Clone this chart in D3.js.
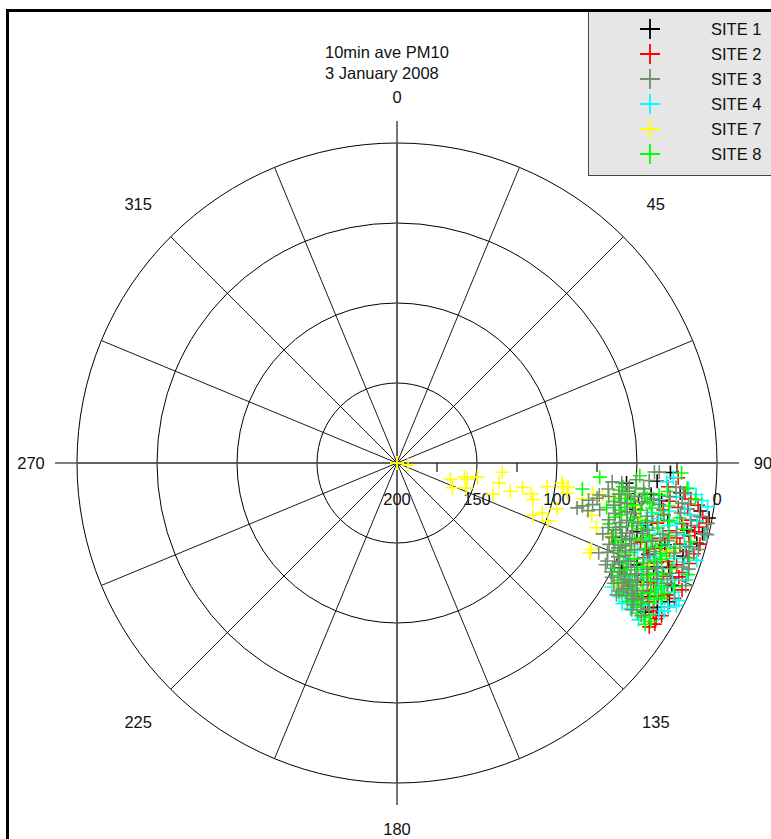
<!DOCTYPE html>
<html>
<head>
<meta charset="utf-8">
<script src="https://cdn.jsdelivr.net/npm/d3@7"></script>
<style>
  html, body { margin: 0; padding: 0; background: #fff; }
  svg { display: block; font-family: "Liberation Sans", Arial, sans-serif; }
</style>
</head>
<body>
<svg id="chart" width="771" height="839"></svg>
<script>
// Title lines
const titleLines = ["10min ave PM10", "3 January 2008"];

// Compass direction labels (degrees) and radial value labels
const directionLabels = [0, 45, 90, 135, 180, 225, 270, 315];
const spokeAngles = d3.range(0, 360, 22.5);
const ringValues = [150, 100, 50, 0];
const radialLabels = [200, 150, 100, 50, 0];
const minorTicks = [175, 125, 75, 25];

// Site names and colours
const siteNames = ["SITE 1", "SITE 2", "SITE 3", "SITE 4", "SITE 7", "SITE 8"];
const siteColors = ["#000000", "#ff0000", "#6f8f6f", "#00ffff", "#ffff00", "#00ff00"];

// [wind direction (deg), PM10] per site
const site1 = [[95,56],[92,29],[109,57],[101,48],[104,40],[98,33],[107,25],[111,18],[114,12],[103,14],[99,8],[96,22],[116,30],[118,22],[121,19],[113,37],[106,44],[110,33],[100,2],[105,6],[119,14],[102,27],[108,12],[115,45],[112,27],[97,40],[117,9],[94,37],[103,4],[120,30]];
const site2 = [[97,15],[98,10],[99,22],[100,6],[101,13],[102,18],[103,9],[104,25],[105,4],[106,16],[107,11],[108,21],[109,7],[110,14],[111,26],[112,10],[113,19],[114,5],[115,23],[116,12],[117,17],[118,8],[119,28],[120,15],[121,11],[122,10],[98,28],[100,31],[103,33],[106,29],[109,35],[112,31],[115,34],[118,37],[96,19],[101,3],[104,12],[107,6],[110,20],[113,14],[116,7],[119,21],[121,25],[123,12],[99,16],[102,7],[105,19],[108,27],[111,9],[114,29],[117,24],[120,9],[93,24],[95,30],[108,40]];
const site3 = [[92,36],[95,59],[92,39],[104,84],[104,77],[100,73],[99,66],[105,56],[106,55],[111,58],[113,50],[119,38],[122,27],[119,25],[120,34],[101,2],[103,3],[96,45],[98,50],[100,54],[102,48],[104,45],[106,40],[108,47],[110,42],[112,46],[114,40],[116,45],[118,41],[117,32],[115,36],[113,30],[111,35],[109,30],[107,33],[105,28],[103,36],[101,30],[99,34],[97,28],[95,25],[94,42],[96,20],[98,16],[100,20],[102,12],[104,20],[106,24],[108,18],[110,10],[112,16],[114,22],[116,26],[118,30],[120,18],[121,28],[118,48],[116,55],[114,62],[109,64],[107,62],[103,70],[101,78],[97,67],[95,65],[99,45],[105,38],[107,50],[109,45],[111,52],[113,43],[115,50],[117,40],[119,45],[121,40],[110,32],[112,25],[114,15],[106,10],[100,8],
  [97,55],[98,60],[100,58],[101,62],[102,53],[103,60],[104,52],[105,63],[106,47],[107,57],[108,52],[109,58],[110,50],[111,47],[112,54],[113,57],[114,48],[115,55],[116,42],[117,50],[118,36],[119,32],[120,29],[121,22],[122,20],[117,37],[116,33],[120,40],[102,40],[98,38],[96,54],[94,50],[103,81],[102,75],[99,72],
  [103,1],[106,4],[110,6],[113,4],[108,9],[98,20]];
const site4 = [[93,27],[94,31],[96,12],[97,24],[98,4],[99,18],[100,27],[101,9],[102,21],[103,2],[104,15],[105,30],[106,8],[107,22],[108,3],[109,17],[110,28],[111,6],[112,24],[113,13],[114,33],[115,9],[116,19],[117,27],[118,8],[119,32],[120,22],[121,38],[122,28],[119,42],[120,45],[118,40],[123,20],[98,35],[101,38],[104,42],[107,36],[110,40],[113,44],[116,38],[100,14],[103,26],[106,13],[109,10],[112,5],[115,16],[118,13],[95,17],[97,8],[102,33],[105,37],[111,31],[114,21],[117,4],[120,11],[121,30],[122,34],[120,35],[118,34],[116,4],[119,9]];
const site7 = [[0,200],[90,200],[180,200],[270,200],[45,200],[100,193],[107,165],[114,162],[102,157],[103,155],[110,154],[100,149],[95,134],[101,135],[108,137],[104,127],[101,120],[103,114],[105,112],[111,109],[109,104],[111,99],[99,105],[106,96],[97,96],[98,92],[100,92],[98,95],[101,82],[99,76],[105,74],[108,69],[109,59],[114,67],[115,67],[99,70],[99,63],[100,54],[100,48],[119,42],[119,40],[112,30],[108,22],[117,28],[103,45]];
const site8 = [[94,73],[93,48],[92,22],[98,83],[102,66],[97,60],[99,52],[101,45],[103,56],[105,48],[107,40],[109,52],[111,44],[113,50],[115,42],[117,35],[119,30],[121,16],[122,23],[120,38],[118,26],[116,20],[114,28],[112,34],[110,24],[108,30],[106,36],[104,32],[102,26],[100,38],[98,42],[96,30],[95,18],[97,12],[99,28],[101,20],[103,16],[105,24],[107,18],[109,22],[111,16],[113,24],[115,18],[117,14],[119,20],[120,27],[121,32],[118,44],[116,50],[114,36],[112,40],[110,48],[108,44],[106,54],[104,60],[100,62],[96,50],[97,35],[105,10],[108,8],[111,5],[114,10],[116,14],[118,18],[120,24],[122,18],[119,36],[117,45],[115,30],[113,33],[109,36],[107,27],[103,40],[101,32],[99,40],
  [96,58],[98,56],[100,50],[102,58],[104,48],[106,62],[108,58],[110,55],[112,50],[114,45],[116,40],[118,33],[120,31],[121,25],[122,13],[123,15],[119,26],[117,22],[115,25],[113,20],[111,28],[109,26],[107,34],[105,42],[103,48],[101,55],[99,58],[97,44]];

const siteData = [site1, site2, site3, site4, site7, site8];
// drawing order of the sites (index into siteData)
const drawOrder = [0, 1, 3, 4, 5, 2];

const svg = d3.select("#chart");
const cx = 397, cy = 463, R = 320;

const r = d3.scaleLinear().domain([200, 0]).range([0, R]);
const ang = d3.scaleLinear().domain([0, 360]).range([0, 2 * Math.PI]);
const px = (deg, rad) => cx + rad * Math.sin(ang(deg));
const py = (deg, rad) => cy - rad * Math.cos(ang(deg));

const grid = svg.append("g");

// spokes
grid.selectAll("line.spoke").data(spokeAngles).join("line")
  .attr("x1", cx).attr("y1", cy)
  .attr("x2", d => px(d, R)).attr("y2", d => py(d, R))
  .attr("stroke", "#000").attr("stroke-width", 0.9);

// rings
grid.selectAll("circle.ring").data(ringValues).join("circle")
  .attr("cx", cx).attr("cy", cy).attr("r", d => r(d))
  .attr("fill", "none").attr("stroke", "#000").attr("stroke-width", 1);

// main axes extended beyond the outer ring
const axisLen = R + 22;
grid.selectAll("line.axis").data([0, 90, 180, 270]).join("line")
  .attr("x1", cx).attr("y1", cy)
  .attr("x2", d => px(d, axisLen)).attr("y2", d => py(d, axisLen))
  .attr("stroke", "#555").attr("stroke-width", 1.6);

// minor radial ticks along the 90 degree axis
grid.selectAll("line.tick").data(minorTicks).join("line")
  .attr("x1", d => cx + r(d)).attr("x2", d => cx + r(d))
  .attr("y1", cy).attr("y2", cy + 9)
  .attr("stroke", "#222").attr("stroke-width", 1.3);

// direction labels
grid.selectAll("text.dir").data(directionLabels).join("text")
  .attr("x", d => px(d, 366)).attr("y", d => py(d, 366))
  .attr("text-anchor", "middle").attr("dominant-baseline", "central")
  .attr("font-size", 16.5).attr("fill", "#111")
  .text(d => d);

// radial value labels
grid.selectAll("text.rad").data(radialLabels).join("text")
  .attr("x", d => cx + r(d)).attr("y", cy + 42)
  .attr("text-anchor", "middle")
  .attr("font-size", 16.5).attr("fill", "#111")
  .text(d => d);

// title
svg.append("g").selectAll("text").data(titleLines).join("text")
  .attr("x", 325).attr("y", (d, i) => 58 + i * 21)
  .attr("font-size", 16.5).attr("fill", "#111")
  .text(d => d);

// data crosses
const cross = s => `M${-s},0H${s}M0,${-s}V${s}`;
const pts = svg.append("g");
drawOrder.forEach(k => {
  pts.append("g").selectAll("path").data(siteData[k]).join("path")
    .attr("transform", d => `translate(${px(d[0], r(d[1]))},${py(d[0], r(d[1]))})`)
    .attr("d", cross(7))
    .attr("fill", "none")
    .attr("stroke", siteColors[k]).attr("stroke-width", 1.6);
});

// legend
const lg = svg.append("g");
lg.append("rect").attr("x", 588.5).attr("y", 11.5).attr("width", 200).attr("height", 164)
  .attr("fill", "#e6e6e6").attr("stroke", "#444").attr("stroke-width", 1);
siteNames.forEach((name, i) => {
  const y = 29 + i * 25;
  lg.append("path").attr("transform", `translate(650,${y})`)
    .attr("d", cross(10)).attr("fill", "none")
    .attr("stroke", siteColors[i]).attr("stroke-width", 1.8);
  lg.append("text").attr("x", 711).attr("y", y).attr("dominant-baseline", "central")
    .attr("font-size", 16.5).attr("fill", "#111").text(name);
});

// frame (top and left edges)
svg.append("path").attr("d", "M7.5,839V10.5H771")
  .attr("fill", "none").attr("stroke", "#000").attr("stroke-width", 3);
</script>
</body>
</html>
